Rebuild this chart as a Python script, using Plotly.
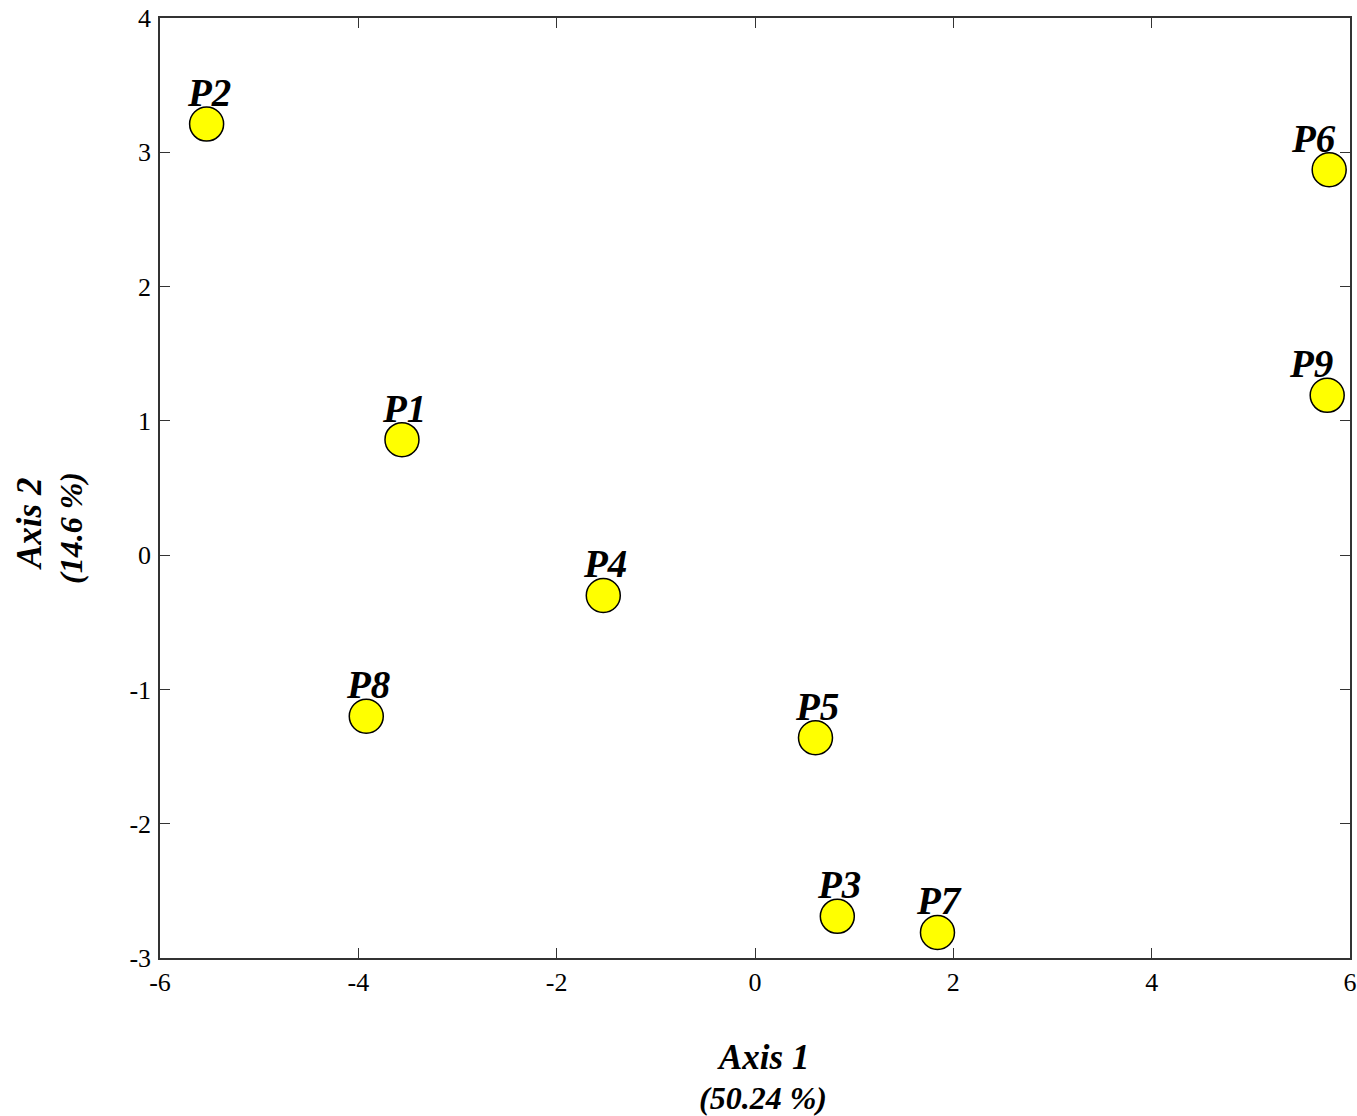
import plotly.graph_objects as go

labels = ["P1", "P2", "P3", "P4", "P5", "P6", "P7", "P8", "P9"]
axis1 = [-3.56, -5.53, 0.83, -1.53, 0.61, 5.79, 1.84, -3.92, 5.77]
axis2 = [0.86, 3.21, -2.69, -0.30, -1.36, 2.87, -2.81, -1.20, 1.19]

x_ticks = [-6, -4, -2, 0, 2, 4, 6]
y_ticks = [-3, -2, -1, 0, 1, 2, 3, 4]

font_fam = "Liberation Serif, Times New Roman, Times, serif"

fig = go.Figure()
fig.add_trace(go.Scatter(
    x=axis1, y=axis2, mode="markers",
    marker=dict(size=34, color="#ffff00", line=dict(color="black", width=1.5)),
    cliponaxis=False, showlegend=False, hoverinfo="text", text=labels,
))

for lx, ly, lt in zip(axis1, axis2, labels):
    fig.add_annotation(
        x=lx, y=ly, xref="x", yref="y", text="<b><i>%s</i></b>" % lt,
        showarrow=False, xanchor="center", yanchor="bottom",
        xshift=(-16 if lx > 5 else 2), yshift=8,
        font=dict(family=font_fam, size=39, color="black"),
    )

axis_common = dict(
    showgrid=False, zeroline=False, showline=True, linecolor="#333333", linewidth=1.5,
    mirror="ticks", ticks="inside", ticklen=10, tickcolor="#333333", automargin=False,
    tickfont=dict(family=font_fam, size=26, color="black"),
)

fig.update_xaxes(range=[-6, 6], tickvals=x_ticks, ticktext=[str(v) for v in x_ticks],
                 ticklabelstandoff=0, **axis_common)
fig.update_yaxes(range=[-3, 4], tickvals=y_ticks, ticktext=[str(v) for v in y_ticks],
                 ticklabelstandoff=2, **axis_common)

L, R, T, B = 160, 7, 18, 158
W, H = 1357, 1116
pw = W - L - R
ph = H - T - B

def px(xp):
    return (xp - L) / pw

def py(yp):
    return (H - B - yp) / ph

fig.update_layout(
    width=W, height=H,
    margin=dict(l=L, r=R, t=T, b=B),
    plot_bgcolor="white", paper_bgcolor="white",
)

titles = [
    ("<b><i>Axis 1</i></b>", 763, 1057, 0, 35),
    ("<b><i>(50.24 %)</i></b>", 763, 1098, 0, 32),
    ("<b><i>Axis 2</i></b>", 29, 524, -90, 35),
    ("<b><i>(14.6 %)</i></b>", 71, 528, -90, 32),
]
for t, xp, yp, ang, sz in titles:
    fig.add_annotation(
        text=t, x=px(xp), y=py(yp), xref="paper", yref="paper",
        xanchor="center", yanchor="middle", showarrow=False, textangle=ang,
        font=dict(family=font_fam, size=sz, color="black"),
    )

fig.write_html("out.html")
